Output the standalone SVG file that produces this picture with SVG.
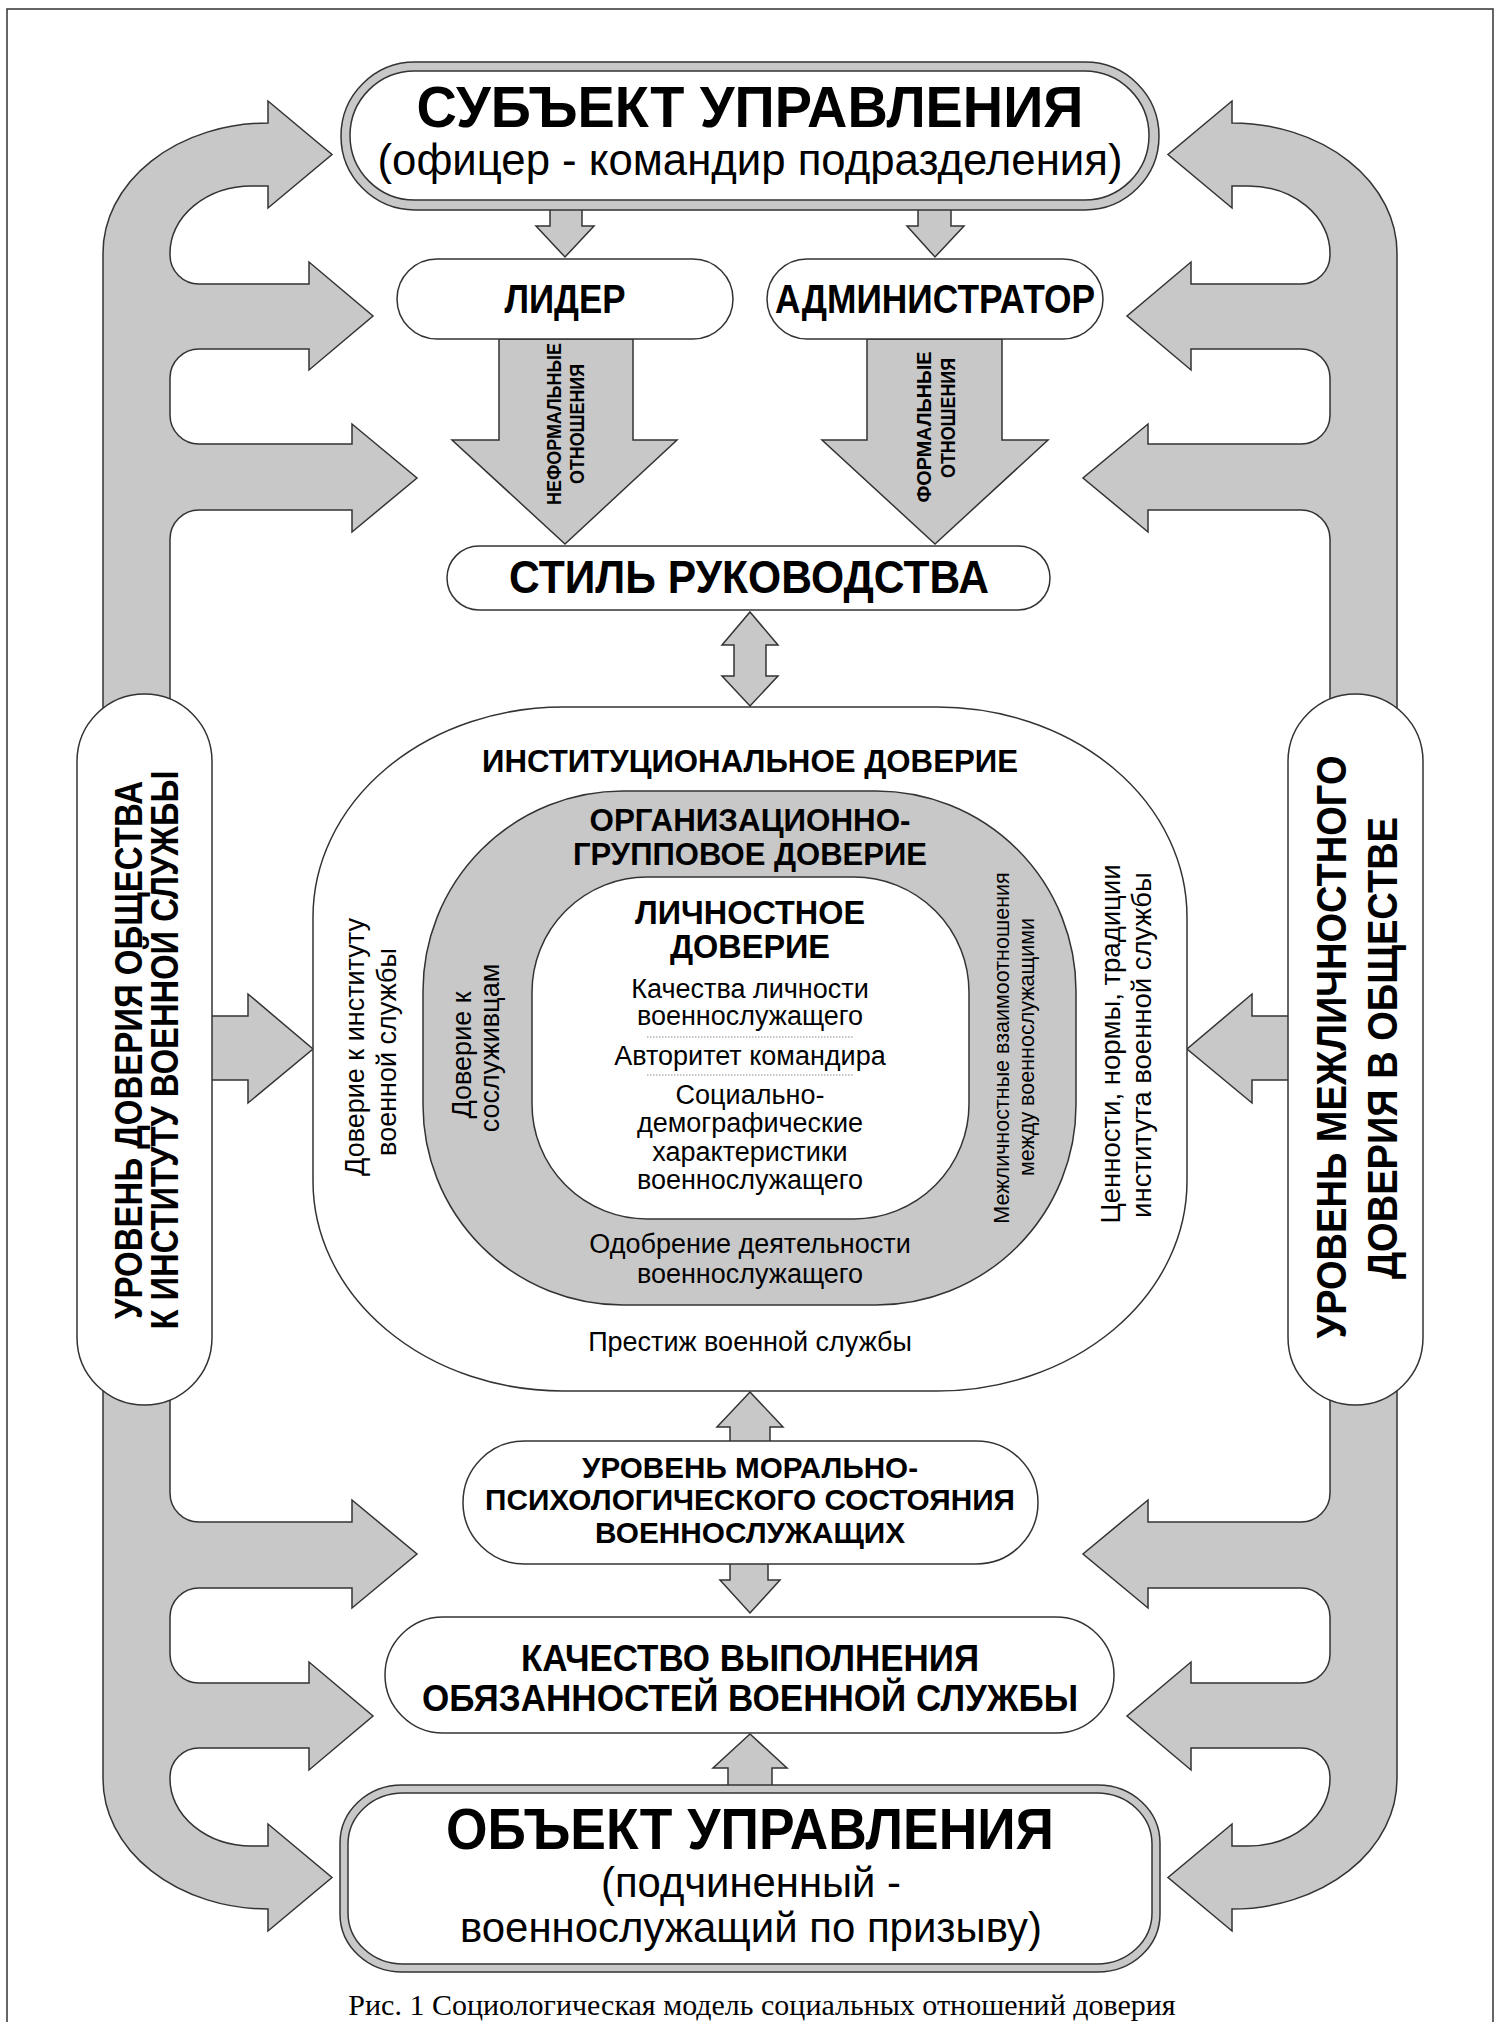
<svg xmlns="http://www.w3.org/2000/svg" xmlns:xlink="http://www.w3.org/1999/xlink" width="1506" height="2022" viewBox="0 0 1506 2022">
<style>
.g{fill:#c8c8c8;stroke:#333;stroke-width:1.5;stroke-linejoin:miter}
.w{fill:#fff;stroke:#333;stroke-width:1.5}
.t{font-family:"Liberation Sans",Arial,sans-serif;fill:#000;text-anchor:middle}
.b{font-weight:bold}
.dot{stroke:#888;stroke-width:1;stroke-dasharray:1.5 1.5;fill:none}
</style>
<defs>
<path id="band" class="g" d="M103,253 A165 130 0 0 1 268,123 L268,101 L332,154.5 L268,208 L268,186 L252,186 A82 67 0 0 0 170,253 L170,255 A29 29 0 0 0 199,284 L309,284 L309,262 L373,316 L309,370 L309,349 L199,349 A29 29 0 0 0 170,378 L170,415 A29 29 0 0 0 199,444 L352,444 L352,424 L417,478 L352,532 L352,510 L199,510 A29 29 0 0 0 170,539 L170,1493 A29 29 0 0 0 199,1522 L352,1522 L352,1500 L417,1554 L352,1608 L352,1588 L199,1588 A29 29 0 0 0 170,1617 L170,1654 A29 29 0 0 0 199,1683 L309,1683 L309,1662 L373,1716 L309,1770 L309,1748 L199,1748 A29 29 0 0 0 170,1777 L170,1779 A82 67 0 0 0 252,1846 L268,1846 L268,1824 L332,1877.5 L268,1931 L268,1909 A165 130 0 0 1 103,1779 Z"/>
<polygon id="sideArrow" class="g" points="200,1016 248,1016 248,994 313,1049 248,1103 248,1080 200,1080"/>
</defs>
<rect x="0" y="0" width="1506" height="2022" fill="#fff"/>
<rect x="7" y="9" width="1486" height="2040" fill="none" stroke="#333" stroke-width="1.5"/>

<g id="connectors">
<use xlink:href="#band"/>
<use xlink:href="#band" transform="matrix(-1 0 0 1 1500 0)"/>
<use xlink:href="#sideArrow"/>
<use xlink:href="#sideArrow" transform="matrix(-1 0 0 1 1500 0)"/>
<polygon class="g" points="550,200 582,200 582,226 594,226 565,257 536,226 550,226"/>
<polygon class="g" points="918,200 951,200 951,226 964,226 935,257 907,226 918,226"/>
<polygon class="g" points="499,339 633,339 633,440 677,440 565,544 452,440 499,440"/>
<polygon class="g" points="867,339 1002,339 1002,440 1048,440 935,544 822,440 867,440"/>
<polygon class="g" points="750,612 778,645 766,645 766,676 778,676 750,706 722,676 734,676 734,645 722,645"/>
<polygon class="g" points="750,1392 783,1427 770,1427 770,1446 730,1446 730,1427 717,1427"/>
<polygon class="g" points="730,1558 768,1558 768,1580 780,1580 750,1613 720,1580 730,1580"/>
<polygon class="g" points="750,1734 787,1768 772,1768 772,1792 728,1792 728,1768 713,1768"/>
</g>

<g id="subject">
<rect class="g" x="341" y="62" width="818" height="148" rx="74" ry="74"/>
<rect class="w" x="350" y="71" width="799" height="129" rx="64.5" ry="64.5"/>
<text class="t b" x="750" y="127" font-size="58" textLength="667" lengthAdjust="spacingAndGlyphs">СУБЪЕКТ УПРАВЛЕНИЯ</text>
<text class="t" x="750" y="175" font-size="44" textLength="745" lengthAdjust="spacingAndGlyphs">(офицер - командир подразделения)</text>
</g>

<g id="leader">
<rect class="w" x="397" y="259" width="336" height="80" rx="40"/>
<text class="t b" x="565" y="313" font-size="40" textLength="121" lengthAdjust="spacingAndGlyphs">ЛИДЕР</text>
</g>
<g id="admin">
<rect class="w" x="767" y="259" width="336" height="80" rx="40"/>
<text class="t b" x="935" y="313" font-size="40" textLength="320" lengthAdjust="spacingAndGlyphs">АДМИНИСТРАТОР</text>
</g>

<g id="label-informal">
<text class="t b" font-size="21" textLength="162" lengthAdjust="spacingAndGlyphs" transform="translate(561,424) rotate(-90)">НЕФОРМАЛЬНЫЕ</text>
<text class="t b" font-size="21" textLength="120" lengthAdjust="spacingAndGlyphs" transform="translate(584,424) rotate(-90)">ОТНОШЕНИЯ</text>
</g>
<g id="label-formal">
<text class="t b" font-size="21" textLength="151" lengthAdjust="spacingAndGlyphs" transform="translate(931,427) rotate(-90)">ФОРМАЛЬНЫЕ</text>
<text class="t b" font-size="21" textLength="120" lengthAdjust="spacingAndGlyphs" transform="translate(955,418) rotate(-90)">ОТНОШЕНИЯ</text>
</g>

<g id="style">
<rect class="w" x="447" y="546" width="603" height="64" rx="32"/>
<text class="t b" x="749" y="593" font-size="46" textLength="480" lengthAdjust="spacingAndGlyphs">СТИЛЬ РУКОВОДСТВА</text>
</g>

<g id="trust">
<rect class="w" x="313" y="707" width="874" height="684" rx="250" ry="210"/>
<rect class="g" x="423" y="791" width="653" height="514" rx="200" ry="200"/>
<rect class="w" x="532" y="877" width="437" height="342" rx="115" ry="115"/>
<text class="t b" x="750" y="772" font-size="31" textLength="536" lengthAdjust="spacingAndGlyphs">ИНСТИТУЦИОНАЛЬНОЕ ДОВЕРИЕ</text>
<text class="t b" x="750" y="831" font-size="32" textLength="321" lengthAdjust="spacingAndGlyphs">ОРГАНИЗАЦИОННО-</text>
<text class="t b" x="750" y="865" font-size="32" textLength="354" lengthAdjust="spacingAndGlyphs">ГРУППОВОЕ ДОВЕРИЕ</text>
<text class="t b" x="750" y="924" font-size="33" textLength="230" lengthAdjust="spacingAndGlyphs">ЛИЧНОСТНОЕ</text>
<text class="t b" x="750" y="958" font-size="33" textLength="160" lengthAdjust="spacingAndGlyphs">ДОВЕРИЕ</text>
<g font-size="27">
<text class="t" x="750" y="998">Качества личности</text>
<text class="t" x="750" y="1025">военнослужащего</text>
<text class="t" x="750" y="1065">Авторитет командира</text>
<text class="t" x="750" y="1104">Социально-</text>
<text class="t" x="750" y="1132">демографические</text>
<text class="t" x="750" y="1161">характеристики</text>
<text class="t" x="750" y="1189">военнослужащего</text>
<text class="t" x="750" y="1253">Одобрение деятельности</text>
<text class="t" x="750" y="1283">военнослужащего</text>
<text class="t" x="750" y="1351">Престиж военной службы</text>
<text class="t" transform="translate(364,1047) rotate(-90)">Доверие к институту</text>
<text class="t" transform="translate(396,1052) rotate(-90)">военной службы</text>
<text class="t" transform="translate(471,1055) rotate(-90)">Доверие к</text>
<text class="t" transform="translate(499,1048) rotate(-90)">сослуживцам</text>
<text class="t" font-size="27.5" transform="translate(1120,1044) rotate(-90)">Ценности, нормы, традиции</text>
<text class="t" font-size="27.5" transform="translate(1151,1045) rotate(-90)">института военной службы</text>
</g>
<text class="t" font-size="21.5" transform="translate(1009,1048) rotate(-90)">Межличностные взаимоотношения</text>
<text class="t" font-size="21.5" transform="translate(1034,1047) rotate(-90)">между военнослужащими</text>
<line class="dot" x1="647" y1="1037" x2="854" y2="1037"/>
<line class="dot" x1="647" y1="1075" x2="854" y2="1075"/>
</g>

<g id="society-trust">
<rect class="w" x="77" y="694" width="135" height="711" rx="67.5"/>
<text class="t b" font-size="39" textLength="538" lengthAdjust="spacingAndGlyphs" transform="translate(142,1050) rotate(-90)">УРОВЕНЬ ДОВЕРИЯ ОБЩЕСТВА</text>
<text class="t b" font-size="39" textLength="559" lengthAdjust="spacingAndGlyphs" transform="translate(178,1050) rotate(-90)">К ИНСТИТУТУ ВОЕННОЙ СЛУЖБЫ</text>
</g>
<g id="interpersonal-trust">
<rect class="w" x="1288" y="694" width="135" height="711" rx="67.5"/>
<text class="t b" font-size="42" textLength="583" lengthAdjust="spacingAndGlyphs" transform="translate(1346,1047) rotate(-90)">УРОВЕНЬ МЕЖЛИЧНОСТНОГО</text>
<text class="t b" font-size="42" textLength="462" lengthAdjust="spacingAndGlyphs" transform="translate(1397,1048) rotate(-90)">ДОВЕРИЯ В ОБЩЕСТВЕ</text>
</g>

<g id="morale">
<rect class="w" x="463" y="1441" width="575" height="123" rx="61.5"/>
<text class="t b" x="750" y="1478" font-size="30" textLength="336" lengthAdjust="spacingAndGlyphs">УРОВЕНЬ МОРАЛЬНО-</text>
<text class="t b" x="750" y="1510" font-size="30" textLength="530" lengthAdjust="spacingAndGlyphs">ПСИХОЛОГИЧЕСКОГО СОСТОЯНИЯ</text>
<text class="t b" x="750" y="1543" font-size="30" textLength="310" lengthAdjust="spacingAndGlyphs">ВОЕННОСЛУЖАЩИХ</text>
</g>

<g id="quality">
<rect class="w" x="385" y="1617" width="729" height="116" rx="58"/>
<text class="t b" x="750" y="1671" font-size="36" textLength="458" lengthAdjust="spacingAndGlyphs">КАЧЕСТВО ВЫПОЛНЕНИЯ</text>
<text class="t b" x="750" y="1711" font-size="36" textLength="656" lengthAdjust="spacingAndGlyphs">ОБЯЗАННОСТЕЙ ВОЕННОЙ СЛУЖБЫ</text>
</g>

<g id="object">
<rect class="g" x="340" y="1785" width="820" height="187" rx="62" ry="58"/>
<rect class="w" x="348" y="1793" width="804" height="171" rx="55" ry="51"/>
<text class="t b" x="750" y="1849" font-size="57" textLength="608" lengthAdjust="spacingAndGlyphs">ОБЪЕКТ УПРАВЛЕНИЯ</text>
<text class="t" x="751" y="1897" font-size="42" textLength="300" lengthAdjust="spacingAndGlyphs">(подчиненный -</text>
<text class="t" x="751" y="1942" font-size="42" textLength="582" lengthAdjust="spacingAndGlyphs">военнослужащий по призыву)</text>
</g>

<text x="762" y="2015" font-family="'Liberation Serif','Times New Roman',serif" font-size="30" text-anchor="middle" fill="#000">Рис. 1 Социологическая модель социальных отношений доверия</text>
</svg>
